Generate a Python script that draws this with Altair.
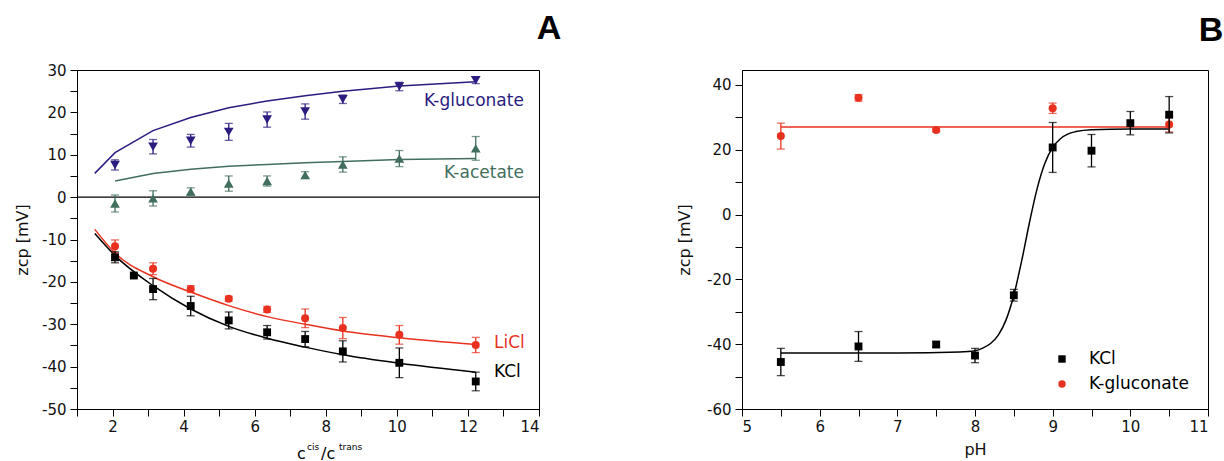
import altair as alt
import pandas as pd

# ---------------- Panel A data ----------------
ratio = [2.07, 3.14, 4.2, 5.27, 6.35, 7.42, 8.48, 10.07, 12.22]
kcl_ratio = [2.07, 2.6, 3.14, 4.2, 5.27, 6.35, 7.42, 8.48, 10.07, 12.22]
fit_ratio = [1.5, 2.07, 3.14, 4.2, 5.27, 6.35, 7.42, 8.48, 10.07, 12.22]

gluc_zcp = [7.6, 11.9, 13.3, 15.4, 18.3, 20.2, 23.1, 26.1, 27.6]
gluc_err = [1.2, 1.7, 1.5, 2.0, 1.8, 1.8, 1.0, 1.0, 0.8]
gluc_fit = [5.6, 10.5, 15.7, 18.8, 21.1, 22.7, 23.9, 25.0, 26.2, 27.2]

acet_zcp = [-1.5, -0.3, 1.3, 3.2, 3.8, 5.2, 7.7, 9.1, 11.5]
acet_err = [2.0, 1.8, 0.9, 1.8, 1.2, 0.8, 1.8, 1.9, 2.8]
acet_fit = [3.8, 5.6, 6.6, 7.3, 7.7, 8.1, 8.4, 8.9, 9.1]

licl_zcp = [-11.6, -16.9, -21.7, -24.0, -26.5, -28.6, -30.9, -32.5, -34.9]
licl_err = [1.5, 1.4, 0.8, 0.6, 0.7, 2.2, 2.5, 2.2, 1.8]
licl_fit = [-7.6, -13.2, -18.8, -22.4, -25.6, -28.2, -30.0, -31.6, -33.2, -34.8]

kcl_zcp = [-14.2, -18.5, -21.7, -25.7, -29.1, -31.9, -33.5, -36.4, -39.1, -43.5]
kcl_err = [1.3, 0.4, 2.5, 2.3, 2.0, 1.6, 1.8, 2.5, 3.5, 2.2]
kcl_fit = [-8.6, -13.8, -20.9, -26.4, -30.5, -33.3, -35.4, -37.2, -39.2, -41.3]

a_x_ticks = list(range(1, 15))
a_y_ticks = list(range(-50, 31, 5))

# ---------------- Panel B data ----------------
ph = [5.5, 6.5, 7.5, 8.0, 8.5, 9.0, 9.5, 10.0, 10.5]
kcl_b = [-45.5, -40.7, -40.1, -43.5, -24.9, 20.7, 19.7, 28.2, 30.8]
kcl_b_err = [4.2, 4.6, 0.8, 2.2, 1.8, 7.7, 5.0, 3.6, 5.6]
kcl_b_fit_ph = [5.5, 7.0, 7.8, 8.0, 8.1, 8.2, 8.3, 8.4, 8.5, 8.6, 8.7, 8.8,
                8.9, 9.0, 9.1, 9.2, 9.3, 9.5, 10.0, 10.5]
kcl_b_fit = [-42.7, -42.7, -42.4, -42.0, -41.2, -39.8, -37.2, -32.5, -24.9,
             -14.4, -2.6, 8.0, 15.8, 20.7, 23.4, 24.9, 25.6, 26.2, 26.4, 26.4]

gluc_ph = [5.5, 6.5, 7.5, 9.0, 10.5]
gluc_b = [24.2, 36.0, 26.1, 32.8, 27.8]
gluc_b_err = [4.0, 1.0, 0.6, 1.6, 2.3]
gluc_b_fit_ph = [5.5, 10.5]
gluc_b_fit = [27.0, 27.0]

b_x_ticks = [5, 5.5, 6, 6.5, 7, 7.5, 8, 8.5, 9, 9.5, 10, 10.5, 11]
b_y_ticks = list(range(-60, 41, 10))

INDIGO = "#2b1c80"
GREEN = "#416e5d"
RED = "#e8321f"
BLACK = "#000000"
FONT = "DejaVu Sans"

W_A, W_B, H = 462, 466, 339


def err_df(x, y, e):
    return pd.DataFrame({
        "x": x, "y": y,
        "lo": [a - b for a, b in zip(y, e)],
        "hi": [a + b for a, b in zip(y, e)],
    })


def line_df(x, y):
    return pd.DataFrame({"x": x, "y": y})


def make_enc(xscale, xaxis, yscale, yaxis, xtitle=None):
    def X(f):
        return alt.X(f"{f}:Q", scale=xscale, axis=xaxis, title=xtitle)

    def Y(f):
        return alt.Y(f"{f}:Q", scale=yscale, axis=yaxis)
    return X, Y


def err_layers(df, color, X, Y):
    base = alt.Chart(df)
    bars = base.mark_rule(color=color, strokeWidth=1.3).encode(
        x=X("x"), y=Y("lo"), y2=alt.Y2("hi"))
    cap_lo = base.mark_tick(color=color, orient="horizontal", size=8,
                            thickness=1.3).encode(x=X("x"), y=Y("lo"))
    cap_hi = base.mark_tick(color=color, orient="horizontal", size=8,
                            thickness=1.3).encode(x=X("x"), y=Y("hi"))
    return [bars, cap_lo, cap_hi]


def pts_layer(df, color, shape, size, X, Y):
    return alt.Chart(df).mark_point(filled=True, shape=shape, size=size,
                                    color=color, opacity=1).encode(
        x=X("x"), y=Y("y"))


def fit_layer(df, color, X, Y, interp="linear"):
    return alt.Chart(df).mark_line(color=color, strokeWidth=1.5,
                                   interpolate=interp).encode(
        x=X("x"), y=Y("y"))


def label(txt, x, y, color="black", size=17, align="left", baseline="middle",
          weight="normal", font=FONT):
    return alt.Chart(alt.Data(values=[{}])).mark_text(
        align=align, baseline=baseline, fontSize=size, color=color,
        fontWeight=weight, font=font).encode(
        x=alt.value(x), y=alt.value(y), text=alt.value(txt))


def marker(shape, color, x, y, size=60):
    return alt.Chart(alt.Data(values=[{}])).mark_point(
        filled=True, opacity=1, shape=shape, color=color, size=size).encode(
        x=alt.value(x), y=alt.value(y))


# ---------------- Panel A ----------------
xsA = alt.Scale(domain=[1, 14], nice=False, zero=False)
ysA = alt.Scale(domain=[-50, 30], nice=False, zero=False)
xaxA = alt.Axis(values=a_x_ticks, labelExpr="datum.value % 2 == 0 ? '' + datum.value : ''",
                labelPadding=3, title=None)
yaxA = alt.Axis(values=a_y_ticks, labelExpr="datum.value % 10 == 0 ? '' + datum.value : ''",
                title="zcp [mV]", titleX=-55, titleY=H / 2, titleAngle=270,
                titleAlign="center", titleBaseline="middle")
XA, YA = make_enc(xsA, xaxA, ysA, yaxA)

zero = alt.Chart(pd.DataFrame({"y": [0]})).mark_rule(color="black", strokeWidth=1.2).encode(
    y=YA("y"))

anchor = alt.Chart(alt.Data(values=[{}])).mark_rule(opacity=0, strokeWidth=1).encode(
    x=alt.value(-76), x2=alt.value(-75), y=alt.value(-69), y2=alt.value(-68))

layersA = [anchor, zero]
layersA += [fit_layer(line_df(fit_ratio, gluc_fit), INDIGO, XA, YA)]
layersA += [fit_layer(line_df(ratio, acet_fit), GREEN, XA, YA)]
layersA += [fit_layer(line_df(fit_ratio, licl_fit), RED, XA, YA, "monotone")]
layersA += [fit_layer(line_df(fit_ratio, kcl_fit), BLACK, XA, YA, "monotone")]

for x, y, e, c, s, sz in [
    (ratio, gluc_zcp, gluc_err, INDIGO, "triangle-down", 95),
    (ratio, acet_zcp, acet_err, GREEN, "triangle-up", 95),
    (ratio, licl_zcp, licl_err, RED, "circle", 65),
    (kcl_ratio, kcl_zcp, kcl_err, BLACK, "square", 62),
]:
    d = err_df(x, y, e)
    layersA += err_layers(d, c, XA, YA)
    layersA.append(pts_layer(d, c, s, sz, XA, YA))

layersA += [
    label("K-gluconate", 347, 31, INDIGO),
    label("K-acetate", 367, 103, GREEN),
    label("LiCl", 417, 273, RED),
    label("KCl", 417, 302, BLACK),
    label("A", 472, -31, size=34, align="center", baseline="alphabetic",
          weight="bold", font="Liberation Sans"),
    # x-axis title c^cis / c^trans
    label("c", 220, 392, size=16, baseline="bottom"),
    label("cis", 230, 382, size=9, baseline="bottom"),
    label("/c", 244, 392, size=16, baseline="bottom"),
    label("trans", 262, 382, size=9, baseline="bottom"),
]

panelA = alt.layer(*layersA).properties(width=W_A, height=H)

# ---------------- Panel B ----------------
xsB = alt.Scale(domain=[5, 11], nice=False, zero=False)
ysB = alt.Scale(domain=[-60, 44.6], nice=False, zero=False)
xaxB = alt.Axis(values=b_x_ticks, labelExpr="datum.value % 1 == 0 ? '' + datum.value : ''",
                labelPadding=3, title="pH", titlePadding=7)
yaxB = alt.Axis(values=b_y_ticks, labelExpr="datum.value % 20 == 0 ? '' + datum.value : ''",
                title="zcp [mV]", titleX=-58, titleY=H / 2, titleAngle=270,
                titleAlign="center", titleBaseline="middle")
XB, YB = make_enc(xsB, xaxB, ysB, yaxB, xtitle="pH")

layersB = [
    fit_layer(line_df(gluc_b_fit_ph, gluc_b_fit), RED, XB, YB),
    fit_layer(line_df(kcl_b_fit_ph, kcl_b_fit), BLACK, XB, YB, "monotone"),
]
dk = err_df(ph, kcl_b, kcl_b_err)
dg = err_df(gluc_ph, gluc_b, gluc_b_err)
layersB += err_layers(dg, RED, XB, YB)
layersB.append(pts_layer(dg, RED, "circle", 65, XB, YB))
layersB += err_layers(dk, BLACK, XB, YB)
layersB.append(pts_layer(dk, BLACK, "square", 62, XB, YB))

# legend
layersB += [
    marker("square", BLACK, 320, 289, 55),
    marker("circle", RED, 320, 314, 55),
    label("KCl", 347, 289),
    label("K-gluconate", 347, 314),
    label("B", 469, -29, size=34, align="center", baseline="alphabetic",
          weight="bold", font="Liberation Sans"),
]

panelB = alt.layer(*layersB).properties(width=W_B, height=H)

chart = alt.hconcat(panelA, panelB, spacing=203, bounds="flush").properties(
    padding=0, background="white"
).configure_view(
    stroke="black", strokeWidth=1
).configure_axis(
    grid=False, tickSize=7, labelPadding=4, labelFontSize=15, labelFont=FONT,
    labelColor="#111111", titleFont=FONT, titleFontSize=16, titleFontWeight="normal",
    titleColor="#111111", domainColor="black", tickColor="black", domainWidth=1,
    tickWidth=1,
)

chart.save("out.html", embed_options={"renderer": "svg", "actions": False})
